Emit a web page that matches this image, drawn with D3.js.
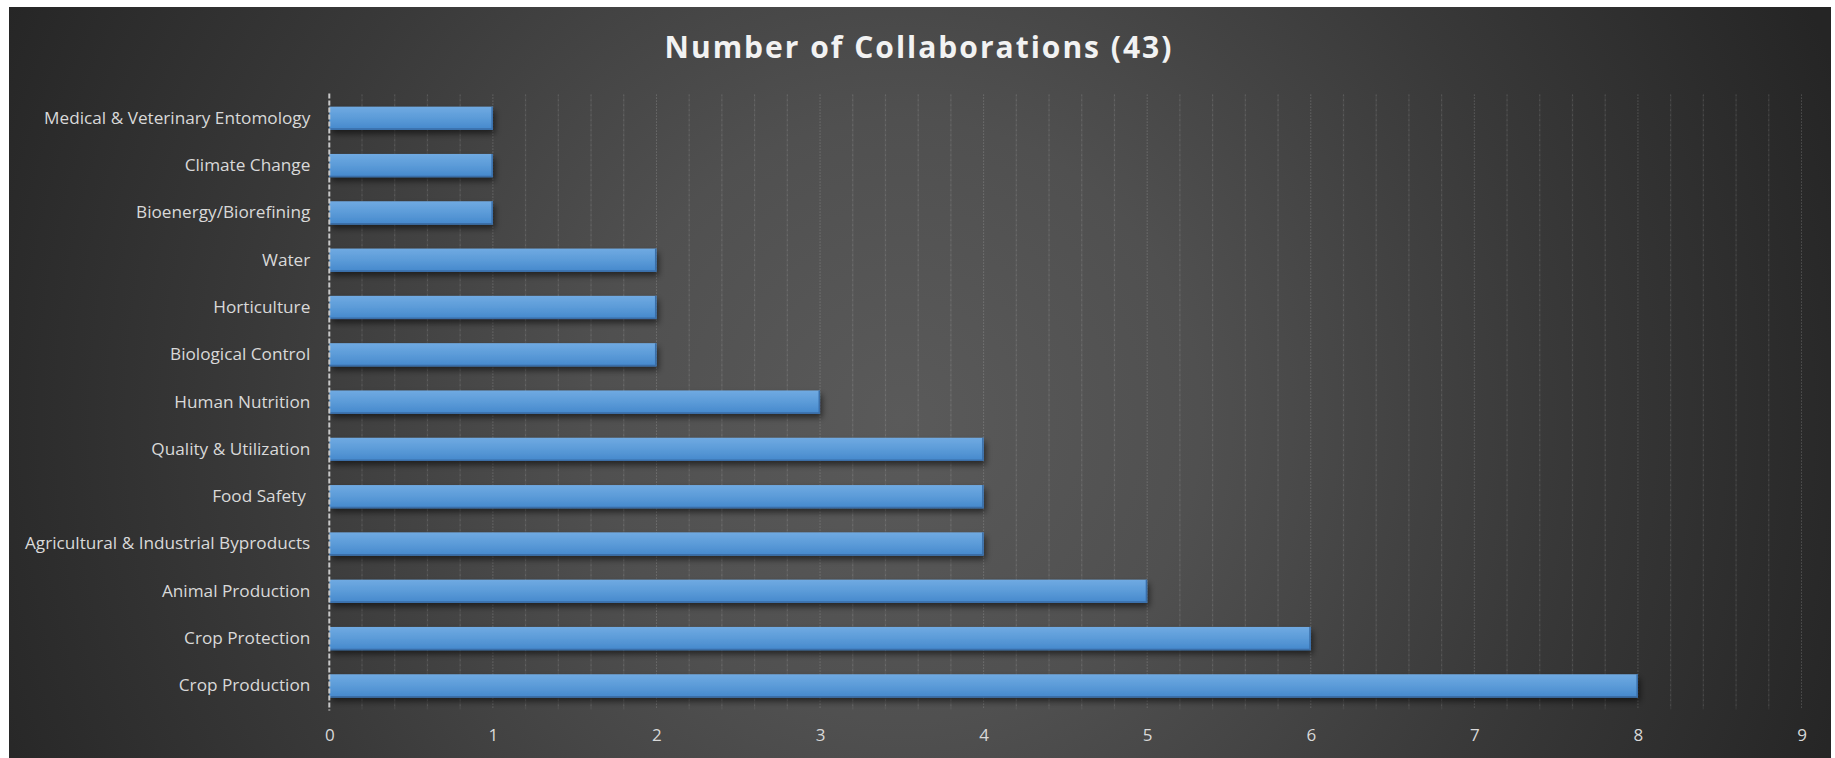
<!DOCTYPE html>
<html>
<head>
<meta charset="utf-8">
<script src="https://cdn.jsdelivr.net/npm/d3@7"></script>
<style>
  html, body { margin: 0; padding: 0; background: #ffffff; }
  svg { display: block; }
  text { font-family: "Open Sans", "DejaVu Sans", sans-serif; }
</style>
</head>
<body>
<script>
// Research areas, listed top to bottom
const categories = [
  "Medical & Veterinary Entomology",
  "Climate Change",
  "Bioenergy/Biorefining",
  "Water",
  "Horticulture",
  "Biological Control",
  "Human Nutrition",
  "Quality & Utilization",
  "Food Safety ",
  "Agricultural & Industrial Byproducts",
  "Animal Production",
  "Crop Protection",
  "Crop Production"
];
// Number of collaborations per area
const collaborations = [1, 1, 1, 2, 2, 2, 3, 4, 4, 4, 5, 6, 8];
const xTicks = [0, 1, 2, 3, 4, 5, 6, 7, 8, 9];
const minorTicks = d3.range(1, 45).map(i => i / 5).filter(v => Math.abs(v - Math.round(v)) > 1e-6);
const chartTitle = "Number of Collaborations (43)";

const W = 1835, H = 758;
const frame = { x: 9, y: 7, w: 1822, h: 751 };
const plot = { left: 329.3, right: 1801.5, top: 94.6, bottom: 709.5 };

const svg = d3.select("body").append("svg")
  .attr("width", W).attr("height", H);

const defs = svg.append("defs");

// Dark radial backdrop, lighter toward the middle
const bg = defs.append("radialGradient")
  .attr("id", "bgGrad")
  .attr("gradientUnits", "userSpaceOnUse")
  .attr("cx", 900).attr("cy", 420).attr("r", 1000);
[[0, "#5a5a5a"], [0.3, "#505050"], [0.65, "#393939"], [1, "#252525"]]
  .forEach(([o, c]) => bg.append("stop").attr("offset", o).attr("stop-color", c));

// Bar fill: light blue on top fading to a deeper blue
const barGrad = defs.append("linearGradient")
  .attr("id", "barGrad").attr("x1", 0).attr("y1", 0).attr("x2", 0).attr("y2", 1);
[[0, "#70aae2"], [0.5, "#5b9bd8"], [1, "#4588cc"]]
  .forEach(([o, c]) => barGrad.append("stop").attr("offset", o).attr("stop-color", c));

const shadow = defs.append("filter").attr("id", "barShadow")
  .attr("x", "-5%").attr("y", "-30%").attr("width", "115%").attr("height", "180%");
shadow.append("feDropShadow")
  .attr("dx", 2).attr("dy", 4).attr("stdDeviation", 3)
  .attr("flood-color", "#000").attr("flood-opacity", 0.55);

svg.append("rect")
  .attr("x", frame.x).attr("y", frame.y)
  .attr("width", frame.w).attr("height", frame.h)
  .attr("fill", "url(#bgGrad)");

const x = d3.scaleLinear().domain([0, 9]).range([plot.left, plot.right]);
const y = d3.scaleBand().domain(categories)
  .range([plot.top, plot.bottom])
  .paddingInner(0.51).paddingOuter(0.255);

// Minor gridlines every 0.2
const grid = svg.append("g");
grid.selectAll("line.minor-solid").data(minorTicks).join("line")
  .attr("class", "minor-solid")
  .attr("x1", d => x(d)).attr("x2", d => x(d))
  .attr("y1", plot.top).attr("y2", plot.bottom)
  .attr("stroke", "#ffffff").attr("stroke-opacity", 0.05).attr("stroke-width", 1.5);
grid.selectAll("line.minor-dot").data(minorTicks).join("line")
  .attr("class", "minor-dot")
  .attr("x1", d => x(d)).attr("x2", d => x(d))
  .attr("y1", plot.top).attr("y2", plot.bottom)
  .attr("stroke", "#ffffff").attr("stroke-opacity", 0.18).attr("stroke-width", 1)
  .attr("stroke-dasharray", "1,4");
// Major gridlines at whole numbers
grid.selectAll("line.major").data(xTicks.slice(1)).join("line")
  .attr("class", "major")
  .attr("x1", d => x(d)).attr("x2", d => x(d))
  .attr("y1", plot.top).attr("y2", plot.bottom)
  .attr("stroke", "#ffffff").attr("stroke-opacity", 0.28).attr("stroke-width", 1)
  .attr("stroke-dasharray", "1,2");

// Bars
const bars = svg.append("g");
bars.selectAll("rect.bar").data(categories).join("rect")
  .attr("class", "bar")
  .attr("x", x(0))
  .attr("y", d => y(d))
  .attr("width", (d, i) => x(collaborations[i]) - x(0))
  .attr("height", y.bandwidth())
  .attr("fill", "url(#barGrad)")
  .attr("filter", "url(#barShadow)");
// Darker bottom and right edges
bars.selectAll("path.edge").data(categories).join("path")
  .attr("class", "edge")
  .attr("d", (d, i) => {
    const x0 = x(0), x1 = x(collaborations[i]);
    const yb = y(d) + y.bandwidth() - 0.75, yt = y(d);
    return `M${x0},${yb}H${x1 - 0.75}V${yt}`;
  })
  .attr("fill", "none").attr("stroke", "#3a6ea8").attr("stroke-width", 1.5);

// Value axis line at zero
svg.append("line")
  .attr("x1", x(0)).attr("x2", x(0))
  .attr("y1", plot.top - 1).attr("y2", plot.bottom + 1)
  .attr("stroke", "#c8c8c8").attr("stroke-width", 2)
  .attr("stroke-dasharray", "5,2");

// Category axis
const yAxis = svg.append("g")
  .attr("transform", `translate(${x(0)},0)`)
  .call(d3.axisLeft(y).tickSize(0).tickPadding(19));
yAxis.select(".domain").remove();
yAxis.selectAll("text")
  .attr("fill", "#d9d9d9")
  .style("font-size", "17.2px")
  .style("white-space", "pre")
  .style("font-family", "'Open Sans', sans-serif");

// Value axis labels
const xAxis = svg.append("g")
  .attr("transform", `translate(0,${plot.bottom})`)
  .call(d3.axisBottom(x).tickValues(xTicks).tickSize(0).tickPadding(19).tickFormat(d3.format("d")));
xAxis.select(".domain").remove();
xAxis.selectAll("text")
  .attr("fill", "#d9d9d9")
  .style("font-size", "17px")
  .style("font-family", "'Open Sans', sans-serif");

// Title
svg.append("text")
  .attr("x", 919).attr("y", 46)
  .attr("text-anchor", "middle")
  .attr("dominant-baseline", "central")
  .attr("fill", "#f2f2f2")
  .style("font-size", "30px")
  .style("font-weight", "700")
  .style("letter-spacing", "2px")
  .text(chartTitle);
</script>
</body>
</html>
